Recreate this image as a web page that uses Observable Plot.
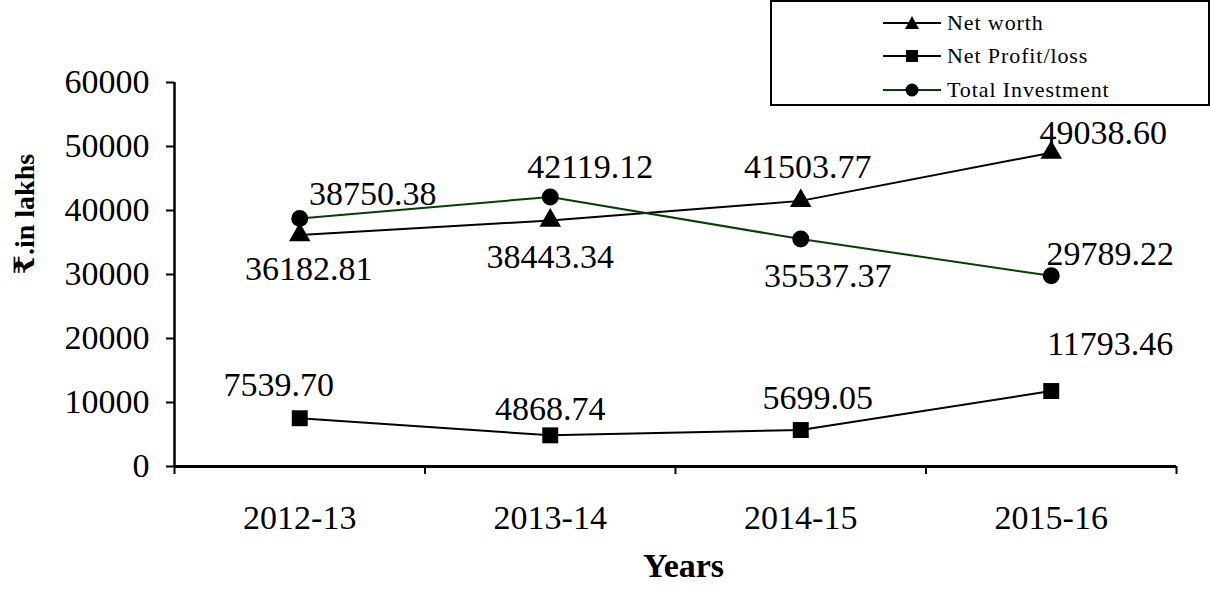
<!DOCTYPE html>
<html>
<head>
<meta charset="utf-8">
<script src="https://cdn.jsdelivr.net/npm/d3@7"></script>
<script src="https://cdn.jsdelivr.net/npm/@observablehq/plot@0.6"></script>
<style>
  html, body { margin: 0; padding: 0; background: #fff; }
  #wrap { position: relative; width: 1210px; height: 589px; font-family: "Liberation Serif", serif; }
  #wrap svg text { font-family: "Liberation Serif", "DejaVu Serif", serif; }
  #legend { position: absolute; left: 770px; top: 0px; width: 436px; height: 102px; border: 2px solid #000; background: #fff;
            font-family: "Liberation Serif", serif; font-size: 22px; letter-spacing: 0.9px; color: #000; }
  .row { position: absolute; left: 111px; height: 24px; display: flex; align-items: center; }
  .row svg { margin-right: 6px; }
</style>
</head>
<body>
<div id="wrap"></div>
<script>
// ---- data ----
const years = ["2012-13", "2013-14", "2014-15", "2015-16"];
const netWorth = [36182.81, 38443.34, 41503.77, 49038.60];
const netProfit = [7539.70, 4868.74, 5699.05, 11793.46];
const totalInvestment = [38750.38, 42119.12, 35537.37, 29789.22];
const yTicks = [0, 10000, 20000, 30000, 40000, 50000, 60000];
const seriesNames = ["Net worth", "Net Profit/loss", "Total Investment"];

// ---- style: label offsets [dx, dy] per point ----
const nwLabelOffsets = [[9, 34], [0, 37], [7, -34], [52, -20]];
const npLabelOffsets = [[-21, -33], [0, -26], [17, -32], [59, -47]];
const tiLabelOffsets = [[73, -24], [40, -30], [27, 37], [59, -22]];

const GREEN = "#063f06";
const FONT = "Liberation Serif";

const xOf = (d, i) => i + 0.5;
const fmt = d3.format(".2f");

function labels(values, offsets) {
  return values.map((v, i) => Plot.text([v], {
    x: () => i + 0.5, y: d => d, text: d => fmt(d),
    dx: offsets[i][0], dy: offsets[i][1], fontSize: 34, fill: "#000", fontFamily: FONT
  }));
}

const chart = Plot.plot({
  width: 1210, height: 589,
  marginLeft: 174, marginRight: 34, marginTop: 82, marginBottom: 123,
  style: { fontFamily: FONT, fontSize: "33px", color: "#000", background: "#fff" },
  x: { type: "linear", domain: [0, years.length] },
  y: { domain: [0, 60000] },
  marks: [
    Plot.axisY({ ticks: yTicks, tickSize: 8, tickPadding: 17, tickFormat: d3.format("d"), label: null, fontSize: 34, fontFamily: FONT, strokeWidth: 2 }),
    Plot.axisX({ ticks: d3.range(years.length + 1), tickSize: 8, tickFormat: () => "", label: null, strokeWidth: 2 }),
    Plot.axisX({ ticks: years.map((y, i) => i + 0.5), tickSize: 0, tickPadding: 38, tickFormat: d => years[Math.floor(d)], label: null, fontSize: 34, fontFamily: FONT }),
    Plot.ruleX([0], { stroke: "#000", strokeWidth: 2.5 }),
    Plot.ruleY([0], { stroke: "#000", strokeWidth: 3 }),
    Plot.line(netWorth, { x: xOf, y: d => d, stroke: "#000", strokeWidth: 2 }),
    Plot.line(netProfit, { x: xOf, y: d => d, stroke: "#000", strokeWidth: 2 }),
    Plot.line(totalInvestment, { x: xOf, y: d => d, stroke: GREEN, strokeWidth: 2 }),
    Plot.dot(netWorth, { x: xOf, y: d => d, symbol: "triangle", r: 8, fill: "#000", stroke: "none" }),
    Plot.dot(netProfit, { x: xOf, y: d => d, symbol: "square", r: 9, fill: "#000", stroke: "none" }),
    Plot.dot(totalInvestment, { x: xOf, y: d => d, symbol: "circle", r: 8.5, fill: "#000", stroke: "none" }),
    ...labels(netWorth, nwLabelOffsets),
    ...labels(netProfit, npLabelOffsets),
    ...labels(totalInvestment, tiLabelOffsets),
    Plot.text(["Years"], { frameAnchor: "bottom", lineAnchor: "middle", dy: 100, dx: 8, fontWeight: "bold", fontSize: 34, fill: "#000", fontFamily: FONT }),
    Plot.text(["₹.in lakhs"], { frameAnchor: "left", lineAnchor: "middle", dx: -149, rotate: -90, fontWeight: "bold", fontSize: 28, fill: "#000", fontFamily: FONT })
  ]
});

const wrap = document.getElementById("wrap");
wrap.appendChild(chart);

// ---- legend (HTML overlay) ----
const legend = document.createElement("div");
legend.id = "legend";
const symbolsSvg = [
  '<path d="M29,2 L36,15 L22,15 Z" fill="#000"/>',
  '<rect x="23" y="3" width="12" height="12" fill="#000"/>',
  '<circle cx="29" cy="9" r="6.5" fill="#000"/>'
];
const strokes = ["#000", "#000", GREEN];
const rowTops = [9, 42, 76];
seriesNames.forEach((name, k) => {
  const row = document.createElement("div");
  row.className = "row";
  row.style.top = rowTops[k] + "px";
  row.innerHTML = `<svg width="58" height="18"><line x1="0" x2="58" y1="9" y2="9" stroke="${strokes[k]}" stroke-width="2"/>${symbolsSvg[k]}</svg><span>${name}</span>`;
  legend.appendChild(row);
});
wrap.appendChild(legend);
</script>
</body>
</html>
